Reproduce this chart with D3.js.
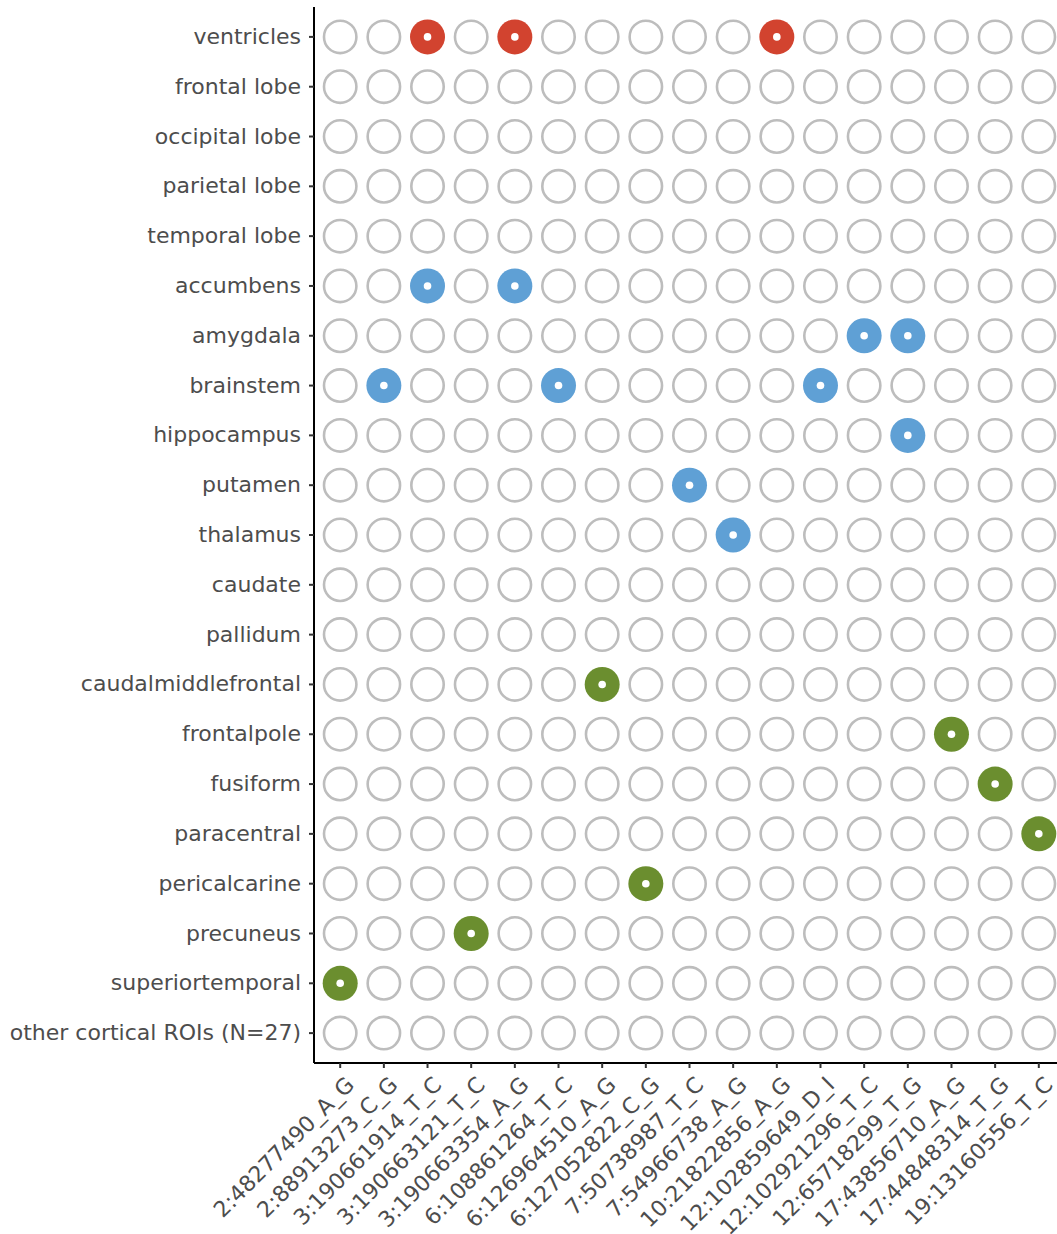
<!DOCTYPE html>
<html>
<head>
<meta charset="utf-8">
<script src="https://cdn.jsdelivr.net/npm/d3@7"></script>
<style>
  html, body { margin: 0; padding: 0; background: #fff; }
  svg { display: block; }
</style>
</head>
<body>
<svg id="chart" width="1057" height="1234"></svg>
<script>
// SNP identifiers along the x axis
const snps = [
  "2:48277490_A_G", "2:88913273_C_G", "3:190661914_T_C", "3:190663121_T_C",
  "3:190663354_A_G", "6:108861264_T_C", "6:126964510_A_G", "6:127052822_C_G",
  "7:50738987_T_C", "7:54966738_A_G", "10:21822856_A_G", "12:102859649_D_I",
  "12:102921296_T_C", "12:65718299_T_G", "17:43856710_A_G", "17:44848314_T_G",
  "19:13160556_T_C"
];

// Brain regions along the y axis, top to bottom
const regions = [
  "ventricles", "frontal lobe", "occipital lobe", "parietal lobe", "temporal lobe",
  "accumbens", "amygdala", "brainstem", "hippocampus", "putamen", "thalamus",
  "caudate", "pallidum", "caudalmiddlefrontal", "frontalpole", "fusiform",
  "paracentral", "pericalcarine", "precuneus", "superiortemporal",
  "other cortical ROIs (N=27)"
];

// Region class for each row
const regionClass = [
  "ventricle", "lobe", "lobe", "lobe", "lobe",
  "subcortical", "subcortical", "subcortical", "subcortical", "subcortical", "subcortical",
  "subcortical", "subcortical", "cortical", "cortical", "cortical",
  "cortical", "cortical", "cortical", "cortical",
  "cortical"
];

// Significant SNP–region associations [region, snp]
const hits = [
  ["ventricles", "3:190661914_T_C"],
  ["ventricles", "3:190663354_A_G"],
  ["ventricles", "10:21822856_A_G"],
  ["accumbens", "3:190661914_T_C"],
  ["accumbens", "3:190663354_A_G"],
  ["amygdala", "12:102921296_T_C"],
  ["amygdala", "12:65718299_T_G"],
  ["brainstem", "2:88913273_C_G"],
  ["brainstem", "6:108861264_T_C"],
  ["brainstem", "12:102859649_D_I"],
  ["hippocampus", "12:65718299_T_G"],
  ["putamen", "7:50738987_T_C"],
  ["thalamus", "7:54966738_A_G"],
  ["caudalmiddlefrontal", "6:126964510_A_G"],
  ["frontalpole", "17:43856710_A_G"],
  ["fusiform", "17:44848314_T_G"],
  ["paracentral", "19:13160556_T_C"],
  ["pericalcarine", "6:127052822_C_G"],
  ["precuneus", "3:190663121_T_C"],
  ["superiortemporal", "2:48277490_A_G"]
];

const classColor = {
  ventricle: "#d2432f",
  lobe: "#d2432f",
  subcortical: "#5fa0d5",
  cortical: "#6b8e2f"
};

const svg = d3.select("#chart");
const margin = { left: 314, top: 7, right: -8, bottom: 171 };
const W = 1057, H = 1234;
const innerW = W - margin.left - margin.right;
const innerH = H - margin.top - margin.bottom;

const x = d3.scaleBand().domain(snps).range([0, innerW]).paddingOuter(0.1).paddingInner(0);
const y = d3.scaleBand().domain(regions).range([0, innerH]).paddingOuter(0.1).paddingInner(0);

const g = svg.append("g").attr("transform", `translate(${margin.left},${margin.top})`);

const hitSet = new Set(hits.map(h => h[0] + "|" + h[1]));
const cells = [];
regions.forEach((r, i) => snps.forEach(s => cells.push({ r, s, cls: regionClass[i], hit: hitSet.has(r + "|" + s) })));

const cx = d => x(d.s) + x.bandwidth() / 2;
const cy = d => y(d.r) + y.bandwidth() / 2;

// Empty rings for every cell without an association
g.selectAll("circle.empty").data(cells.filter(d => !d.hit)).join("circle")
  .attr("class", "empty")
  .attr("cx", cx).attr("cy", cy).attr("r", 16.2)
  .attr("fill", "none").attr("stroke", "#bdbdbd").attr("stroke-width", 2.6);

// Filled markers with a white centre for associations
const hitCells = cells.filter(d => d.hit);
g.selectAll("circle.hit").data(hitCells).join("circle")
  .attr("class", "hit")
  .attr("cx", cx).attr("cy", cy).attr("r", 17.5)
  .attr("fill", d => classColor[d.cls]);
g.selectAll("circle.dot").data(hitCells).join("circle")
  .attr("class", "dot")
  .attr("cx", cx).attr("cy", cy).attr("r", 3.8)
  .attr("fill", "#fff");

const font = "'DejaVu Sans', sans-serif";

// y axis
const yAxis = g.append("g").call(d3.axisLeft(y).tickSize(5).tickPadding(8));
yAxis.select(".domain").attr("stroke", "#000").attr("stroke-width", 2).attr("d", `M0,0V${innerH}`);
yAxis.selectAll(".tick line").attr("stroke", "#333").attr("stroke-width", 2);
yAxis.selectAll(".tick text")
  .attr("fill", "#4d4d4d").style("font-family", font).style("font-size", "22px");

// x axis
const xAxis = g.append("g").attr("transform", `translate(0,${innerH})`)
  .call(d3.axisBottom(x).tickSize(5).tickPadding(4));
xAxis.select(".domain").attr("stroke", "#000").attr("stroke-width", 2).attr("d", `M0,0H${innerW}`);
xAxis.selectAll(".tick line").attr("stroke", "#333").attr("stroke-width", 2);
xAxis.selectAll(".tick text")
  .attr("fill", "#4d4d4d").style("font-family", font).style("font-size", "22px")
  .attr("text-anchor", "end")
  .attr("dy", "0.7em")
  .attr("transform", "translate(-2,6) rotate(-45)");
</script>
</body>
</html>
